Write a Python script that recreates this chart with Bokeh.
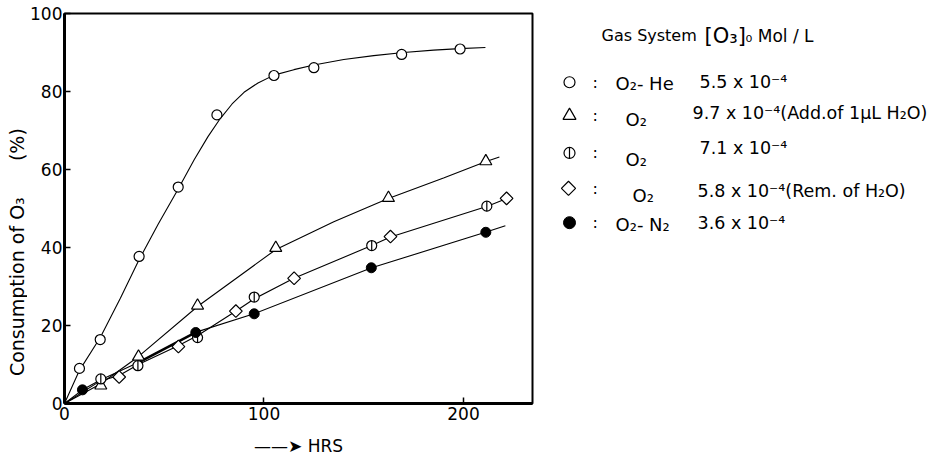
import math
from bokeh.plotting import figure
from bokeh.models import Range1d, FixedTicker, Title
from bokeh.layouts import row
from bokeh.embed import file_html
from bokeh.resources import INLINE
from bokeh.core.properties import value

# ---------------- data (hours vs. % O3 consumed) ----------------
he_x = [7.5, 17.9, 37.4, 57.0, 76.4, 105.0, 125.0, 169.0, 198.3]
he_y = [9.0, 16.4, 37.7, 55.5, 74.0, 84.1, 86.1, 89.5, 90.9]

tri_x = [18.2, 37.1, 66.7, 105.9, 162.4, 211.2]
tri_y = [4.6, 12.0, 25.1, 39.9, 52.7, 62.1]

half_x = [18.2, 36.8, 66.7, 95.1, 154.0, 211.7]
half_y = [6.3, 9.7, 16.9, 27.3, 40.5, 50.6]

dia_x = [27.4, 57.1, 85.9, 115.1, 163.4, 221.6]
dia_y = [6.8, 14.6, 23.7, 32.1, 42.8, 52.6]

n2_x = [9.0, 65.8, 95.1, 153.8, 211.2]
n2_y = [3.5, 18.2, 23.0, 34.8, 43.9]

# hand-drawn curves
he_curve_x = [0, 7.5, 18, 28, 37, 47, 57, 65, 72, 78, 84, 90, 97, 105, 115, 125, 140, 155, 170, 185, 198, 211]
he_curve_y = [0, 8.5, 17, 27, 36.5, 46, 55, 62.5, 68.5, 73, 76.8, 79.8, 82.2, 84.2, 85.6, 86.8, 88.2, 89.2, 90, 90.6, 91, 91.3]
tri_curve_x = [0, 18, 37, 67, 106, 135, 162, 190, 211, 218]
tri_curve_y = [0, 5, 12, 25, 39.5, 46.6, 52.5, 57.8, 62, 63.2]
o2_curve_x = [0, 18, 27.4, 37, 57, 67, 86, 95, 115, 154, 163.4, 212, 222]
o2_curve_y = [0, 5.8, 7.2, 10, 14.8, 17.5, 23.7, 26.8, 32.1, 40.5, 42.7, 50.6, 52.6]
n2_curve_x = [0, 9, 18, 37, 66, 95, 154, 211, 221]
n2_curve_y = [0, 3.5, 6, 10.5, 18.3, 23, 34.8, 43.9, 45.6]

x_ticks = [0, 100, 200]
y_ticks = [0, 20, 40, 60, 80, 100]

y_label = "Consumption of O\u2083 \u00a0\u00a0\u00a0\u00a0\u00a0(%)"
x_label = "\u2014\u2014\u27a4 HRS"
header_parts = ["Gas System", "[O\u2083]", "\u2080 Mol / L"]
gas_names = ["O\u2082- He", "O\u2082", "O\u2082", "O\u2082", "O\u2082- N\u2082"]
concs = ["5.5 x 10\u207b\u2074",
         "9.7 x 10\u207b\u2074(Add.of 1\u03bcL H\u2082O)",
         "7.1 x 10\u207b\u2074",
         "5.8 x 10\u207b\u2074(Rem. of H\u2082O)",
         "3.6 x 10\u207b\u2074"]

FONT = "DejaVu Sans"
LABEL_W = 27

# ---------------- y-axis title panel (page-pixel coordinates) ----------------
t = figure(width=LABEL_W, height=460, x_range=Range1d(0, LABEL_W), y_range=Range1d(403, 13),
           output_backend="svg", toolbar_location=None, min_border=0,
           x_axis_location=None, y_axis_location=None)
t.grid.visible = False
t.outline_line_color = None
t.background_fill_color = "white"
t.border_fill_color = "white"
t.text(x=[16], y=[256], text=[y_label], angle=math.pi / 2, text_font=value(FONT),
       text_font_size=value("19px"), text_align="center", text_baseline="middle", text_color="black")

# ---------------- main chart ----------------
p = figure(frame_width=468, frame_height=390, x_range=Range1d(0, 234.6), y_range=Range1d(0, 100),
           output_backend="svg", toolbar_location=None,
           min_border_left=62 - LABEL_W, min_border_right=10, min_border_top=13, min_border_bottom=57)
p.grid.visible = False
p.outline_line_color = "black"
p.outline_line_width = 2
p.background_fill_color = "white"
p.border_fill_color = "white"

for ax in (p.xaxis[0], p.yaxis[0]):
    ax.axis_line_width = 3
    ax.axis_line_color = "black"
    ax.major_tick_in = 6
    ax.major_tick_out = 0
    ax.major_tick_line_width = 1.5
    ax.major_tick_line_color = "black"
    ax.minor_tick_line_color = None
    ax.major_label_text_font = FONT
    ax.major_label_text_font_size = "17px"
    ax.major_label_text_color = "black"
    ax.major_label_standoff = 2
p.xaxis.ticker = FixedTicker(ticks=x_ticks)
p.yaxis.ticker = FixedTicker(ticks=y_ticks)
p.xaxis.major_label_standoff = 3

p.add_layout(Title(text=x_label, align="center", offset=0, text_font=FONT,
                   text_font_size="17px", text_font_style="normal", text_color="black",
                   standoff=23), "below")

lw = 1.1
p.line(he_curve_x, he_curve_y, line_color="black", line_width=lw)
p.line(tri_curve_x, tri_curve_y, line_color="black", line_width=lw)
p.line(o2_curve_x, o2_curve_y, line_color="black", line_width=lw)
p.line(n2_curve_x, n2_curve_y, line_color="black", line_width=lw)
p.line(n2_curve_x[3:5], n2_curve_y[3:5], line_color="black", line_width=2.6)

p.scatter(he_x, he_y, marker="circle", size=10, fill_color="white", line_color="black", line_width=1.2)
p.scatter(tri_x, tri_y, marker="triangle", size=12, fill_color="white", line_color="black", line_width=1.2)
p.scatter(dia_x, dia_y, marker="square", size=9, angle=math.pi / 4, fill_color="white",
          line_color="black", line_width=1.2)
p.scatter(half_x, half_y, marker="circle", size=10, fill_color="white", line_color="black", line_width=1.2)
p.scatter(half_x, half_y, marker="dash", size=10, angle=math.pi / 2, line_color="black", line_width=1.2)
p.scatter(n2_x, n2_y, marker="circle", size=10, fill_color="black", line_color="black")

# ---------------- legend panel (page-pixel coordinates) ----------------
q = figure(width=386, height=460, x_range=Range1d(540, 926), y_range=Range1d(403, 13),
           output_backend="svg", toolbar_location=None, min_border=0,
           x_axis_location=None, y_axis_location=None)
q.grid.visible = False
q.outline_line_color = None
q.background_fill_color = "white"
q.border_fill_color = "white"

row_y = [83, 117, 155, 191, 226]
mk_x = 567
q.text(x=[599, 702, 743], y=[35, 36, 36], text=header_parts, text_font=value(FONT),
       text_font_size=["16px", "21px", "17px"],
       text_baseline="middle", text_align="left", text_color="black")
q.scatter([mk_x], [row_y[0]], marker="circle", size=11, fill_color="white", line_color="black", line_width=1.2)
q.scatter([mk_x], [row_y[1]], marker="triangle", size=13, fill_color="white", line_color="black", line_width=1.2)
q.scatter([mk_x], [row_y[2]], marker="circle", size=11, fill_color="white", line_color="black", line_width=1.2)
q.scatter([mk_x], [row_y[2]], marker="dash", size=11, angle=math.pi / 2, line_color="black", line_width=1.2)
q.scatter([mk_x - 1], [row_y[3]], marker="square", size=10, angle=math.pi / 4, fill_color="white",
          line_color="black", line_width=1.2)
q.scatter([mk_x], [row_y[4]], marker="circle", size=12, fill_color="black", line_color="black")

q.text(x=[590] * 5, y=row_y, text=[":"] * 5, text_font=value(FONT), text_font_size=value("16px"),
       text_baseline="middle", text_align="left", text_color="black")
gx = [613, 623, 623, 630, 613]
gdy = [1, 4, 7, 7, 2]
q.text(x=gx, y=[r + d for r, d in zip(row_y, gdy)], text=gas_names, text_font=value(FONT),
       text_font_size=value("18px"), text_baseline="middle", text_align="left", text_color="black")
cx = [697, 690, 697, 695, 695]
cdy = [0, -3, -5, 3, 0]
q.text(x=cx, y=[r + d for r, d in zip(row_y, cdy)], text=concs, text_font=value(FONT),
       text_font_size=value("17.5px"), text_baseline="middle", text_align="left", text_color="black")

layout = row(t, p, q)
open("out.html", "w").write(file_html(layout, INLINE))
